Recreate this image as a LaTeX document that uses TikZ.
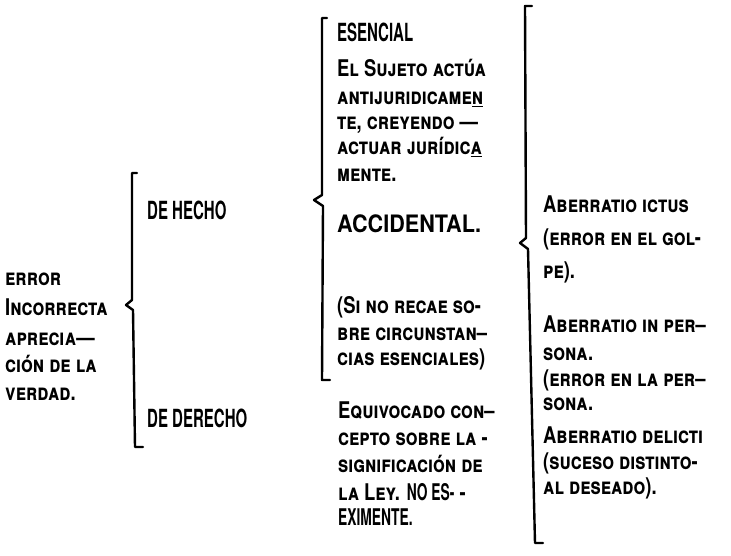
\documentclass[tikz,border=0pt]{standalone}
\usepackage{fontspec}
\setmainfont{TeX Gyre Heros}[FakeStretch=0.8]
\newfontfamily\alta{TeX Gyre Heros}[FakeStretch=0.6]
\newfontfamily\ancha{TeX Gyre Heros}[FakeStretch=0.9]

\begin{document}
\begin{tikzpicture}[x=1pt,y=-1pt,
    every node/.style={anchor=base west,inner sep=0pt,
      font=\fontsize{23}{23}\selectfont\bfseries\scshape},
    mayus/.style={font=\alta\fontsize{25}{25}\selectfont\bfseries\upshape},
    llave/.style={line width=2.4pt,line join=round,line cap=round}]
  \useasboundingbox (0,0) rectangle (731,556);

  % columna izquierda
  \foreach \y/\t [count=\i] in {285/error, 315/Incorrecta, 345/apreci\hspace{.5pt}a---,
      372/ción de la, 400/verdad.}
    \node (izq\i) at (5,\y) {\t};
  \node[mayus] (hecho) at (147,220) {DE HECHO};
  \node[mayus] (derecho) at (147,427) {DE DERECHO};

  % columna central
  \node[mayus] (esencial) at (337,42) {ESENCIAL};
  \foreach \y/\t [count=\i] in {77/El Sujeto actúa, 105/antijuridicame\underline{n},
      130/{te, creyendo ---}, 155/actuar jurídic\underline{a}, 182/mente.}
    \node (esen\i) at (337,\y) {\t};
  \node[mayus,font=\ancha\fontsize{24}{24}\selectfont\bfseries\upshape]
    (accidental) at (337,233) {ACCIDENTAL.};
  \foreach \y/\t [count=\i] in {313/(Si no recae so-, 340/bre circunstan--,
      365/cias esenciales)}
    \node (acci\i) at (337,\y) {\t};
  \foreach \y/\t [count=\i] in {418/Equivocado con--, 445/cepto sobre la -,
      472/significación de, 500/la Ley. {\alta\upshape NO ES-} -,
      525/{\alta\upshape EXIMENTE.}}
    \node (equi\i) at (338,\y) {\t};

  % columna derecha
  \foreach \y/\t [count=\i] in {213/Aberratio ictus, 246/(error en el gol-,
      278/pe).}
    \node (ictus\i) at (543,\y) {\t};
  \foreach \y/\t [count=\i] in {332/Aberratio in per--, 360/sona.,
      386/(error en la per--, 410/sona.}
    \node (perso\i) at (543,\y) {\t};
  \foreach \y/\t [count=\i] in {443/Aberratio delicti, 469/(suceso distinto-,
      494/al deseado).}
    \node (deli\i) at (543,\y) {\t};

  % llaves
  \draw[llave] (137,173) -- (132,173) -- (132,300) -- (126,305) -- (133,310)
    -- (135,447) -- (143,447);
  \draw[llave] (327,18) -- (322,18) -- (322,195) -- (314,200) -- (323,206)
    -- (322,380) -- (330,380);
  \draw[llave] (532,6) -- (525,6) -- (526,238) -- (520,243) -- (528,249)
    -- (535,543) -- (543,543);
\end{tikzpicture}
\end{document}
